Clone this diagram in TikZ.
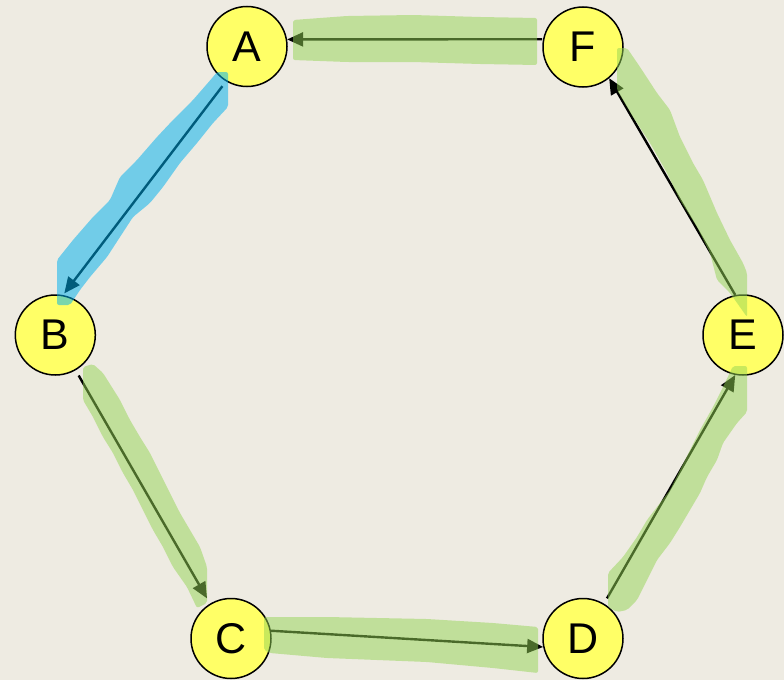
\documentclass[tikz,border=0pt]{standalone}
\usepackage{fontspec}
\setmainfont{Liberation Sans}
\usetikzlibrary{arrows.meta}

\definecolor{paper}{HTML}{EEEBE2}
\definecolor{nodeyellow}{HTML}{FFFF66}
\definecolor{markgreen}{HTML}{94D454}
\definecolor{markblue}{HTML}{00B1EE}

\tikzset{
  vertex/.style={circle, draw, line width=1.5pt, fill=nodeyellow,
    minimum size=80pt, inner sep=0pt, font=\fontsize{43}{43}\selectfont},
  hop/.style={line width=2.4pt, -{Triangle[length=16pt,width=14pt]}},
  greenmark/.style={fill=markgreen, fill opacity=0.5, rounded corners=2pt},
  bluemark/.style={fill=markblue, fill opacity=0.52, rounded corners=2pt}
}

\begin{document}
\begin{tikzpicture}[x=1pt, y=-1pt]
    \fill[paper] (0,0) rectangle (784,680);

    % the six vertices
    \node[vertex] (A) at (247,46.5) {A};
    \node[vertex] (F) at (583,47) {F};
    \node[vertex] (B) at (55.3,335) {B};
    \node[vertex] (E) at (743,335) {E};
    \node[vertex] (C) at (231,638.5) {C};
    \node[vertex] (D) at (583,638.5) {D};

    % directed edges round the hexagon
    \draw[hop, shorten <=6pt, shorten >=2pt] (A.239) -- (B.79);
    \draw[hop, shorten <=6pt, shorten >=6pt] (B.300) -- (C.121);
    \draw[hop] (C.11) -- (D.192);
    \draw[hop, shorten <=6pt] (D.59) -- (E.259);
    \draw[hop] (E.101) -- (F.310);
    \draw[hop, shorten <=1pt] (F.169) -- (A.10);

    % marker strokes laid over the edges
    \fill[bluemark] (217,72) -- (228,72) -- (228,107) -- (213,123) -- (197,143)
        -- (180,163) -- (163,187) -- (150,203) -- (133,217) -- (120,237)
        -- (107,257) -- (90,277) -- (80,290) -- (70,305) -- (57,305)
        -- (57,260) -- (73,240) -- (93,217) -- (110,200) -- (120,177)
        -- (137,160) -- (157,137) -- (173,120) -- (193,100) -- (213,77) -- cycle;
    \fill[greenmark] (293,20) -- (347,16) -- (413,15) -- (480,17) -- (537,18)
        -- (537,65) -- (480,64) -- (413,62) -- (347,62) -- (293,60) -- cycle;
    \fill[greenmark] (617,48) -- (627,48) -- (640,67) -- (657,93) -- (670,110)
        -- (680,137) -- (693,163) -- (703,180) -- (717,213) -- (730,240)
        -- (743,263) -- (747,273) -- (747,317) -- (730,293) -- (717,280)
        -- (710,253) -- (697,227) -- (680,200) -- (667,173) -- (650,143)
        -- (633,117) -- (617,90) -- cycle;
    \fill[greenmark] (733,366) -- (747,366) -- (747,412) -- (737,423) -- (723,443)
        -- (717,460) -- (707,477) -- (700,493) -- (690,510) -- (680,527)
        -- (670,543) -- (657,560) -- (647,580) -- (637,600) -- (627,610)
        -- (617,612) -- (608,607) -- (608,573) -- (623,557) -- (637,537)
        -- (647,520) -- (657,507) -- (670,490) -- (680,470) -- (690,450)
        -- (700,430) -- (713,407) -- (723,387) -- cycle;
    \fill[greenmark] (83,367) -- (93,364) -- (103,373) -- (120,400) -- (130,420)
        -- (140,437) -- (150,453) -- (160,473) -- (170,493) -- (180,513)
        -- (190,530) -- (200,547) -- (207,567) -- (207,603) -- (197,608)
        -- (187,587) -- (173,567) -- (163,547) -- (153,530) -- (143,510)
        -- (133,490) -- (123,473) -- (113,453) -- (103,437) -- (93,417)
        -- (83,400) -- cycle;
    \fill[greenmark] (264,617) -- (327,617) -- (427,619) -- (493,623) -- (538,627)
        -- (538,673) -- (493,668) -- (427,662) -- (327,658) -- (270,653)
        -- (264,650) -- cycle;
\end{tikzpicture}
\end{document}
